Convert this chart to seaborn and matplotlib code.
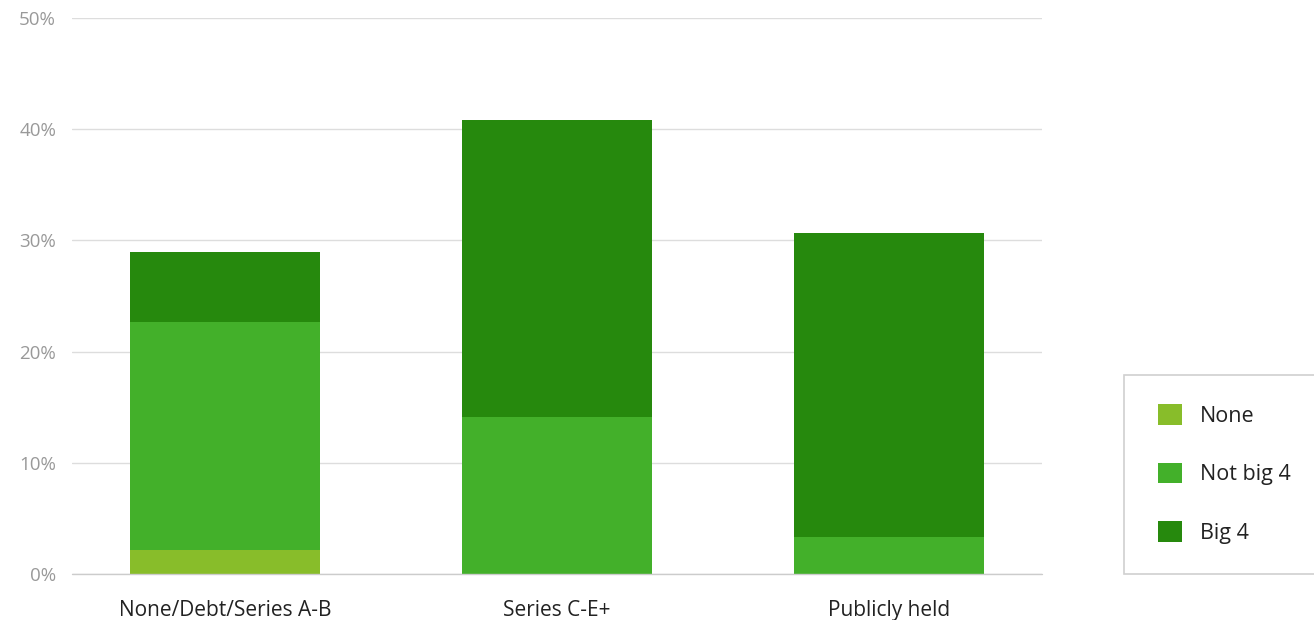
import matplotlib
matplotlib.use("Agg")
import matplotlib.pyplot as plt
from matplotlib.patches import Patch, Rectangle
import numpy as np
import pandas as pd
import seaborn as sns

categories = ["None/Debt/Series A-B", "Series C-E+", "Publicly held"]
series = ["None", "Not big 4", "Big 4"]
none_vals = [2.2, 0.0, 0.0]
not_big4_vals = [20.5, 14.1, 3.3]
big4_vals = [6.3, 26.7, 27.4]
colors = ["#88bd2a", "#43b02a", "#26890d"]

sns.set_theme(style="white")
plt.rcParams["font.family"] = ["Open Sans", "DejaVu Sans"]

# cumulative tops for stacking
stack = np.cumsum(np.array([none_vals, not_big4_vals, big4_vals]), axis=0)

fig = plt.figure(figsize=(13.14, 6.2), dpi=100)
ax = fig.add_axes([72 / 1314, 46 / 620, 970 / 1314, 556 / 620])

# draw from top of stack down so lower segments sit over higher ones
for i in [2, 1, 0]:
    df = pd.DataFrame({"cat": categories, "val": stack[i]})
    sns.barplot(data=df, x="cat", y="val", color=colors[i], width=0.572,
                saturation=1, ax=ax, zorder=3, linewidth=0)

ax.set_xlim(-0.46, 2.46)
ax.set_ylim(0, 50)
ax.set_yticks([0, 10, 20, 30, 40, 50])
ax.set_yticklabels([f"{v}%" for v in range(0, 60, 10)])
ax.set_xlabel("")
ax.set_ylabel("")
ax.grid(axis="y", color="#dddddd", linewidth=1, zorder=0)
ax.axhline(0, color="#cccccc", linewidth=1, zorder=4, clip_on=False)
sns.despine(ax=ax, left=True, top=True, right=True, bottom=True)
ax.tick_params(axis="y", length=0, pad=11.5, labelsize=13.5, labelcolor="#999999")
ax.tick_params(axis="x", length=0, pad=19, labelsize=15, labelcolor="#222222")

# legend box running off the right edge
fig.patches.append(Rectangle((1124 / 1314, 46 / 620), 200 / 1314, 199 / 620,
                             transform=fig.transFigure, facecolor="white",
                             edgecolor="#d0d0d0", linewidth=1.2, zorder=0))
handles = [Patch(facecolor=c, edgecolor="none", label=s) for c, s in zip(colors, series)]
leg = fig.legend(handles=handles, loc="center left",
                 bbox_to_anchor=(1158 / 1314, (620 - 474) / 620),
                 frameon=False, fontsize=15.5, handlelength=1.1,
                 handleheight=1.1, handletextpad=0.85, labelspacing=1.67,
                 borderpad=0, borderaxespad=0)
for t in leg.get_texts():
    t.set_color("#222222")

fig.savefig("out.png", dpi=100)
